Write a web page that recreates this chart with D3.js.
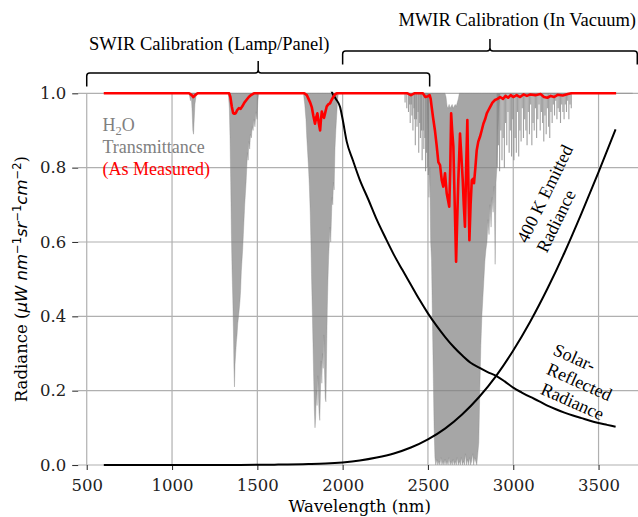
<!DOCTYPE html>
<html>
<head>
<meta charset="utf-8">
<script src="https://cdn.jsdelivr.net/npm/d3@7"></script>
<style>
  body { margin: 0; background: #fff; }
  svg { display: block; }
</style>
</head>
<body>
<div id="chart"></div>
<script>
// Axis ticks
const xTicks = [500, 1000, 1500, 2000, 2500, 3000, 3500];
const yTicks = [0, 0.2, 0.4, 0.6, 0.8, 1.0];

// 400 K emitted radiance [nm, value]
const emitted = [
  [600, 0], [800, 0], [1000, 0], [1200, 0.0001], [1400, 0.0003], [1600, 0.001],
  [1800, 0.0025], [1900, 0.004], [2000, 0.007], [2100, 0.012], [2200, 0.02],
  [2300, 0.031], [2400, 0.047], [2500, 0.069], [2600, 0.098], [2700, 0.136],
  [2800, 0.183], [2900, 0.24], [3000, 0.308], [3100, 0.386], [3200, 0.474],
  [3300, 0.571], [3400, 0.677], [3500, 0.788], [3600, 0.903]
];

// Solar-reflected radiance [nm, value] (goes off the top below ~1940 nm)
const solar = [
  [1900, 1.08], [1920, 1.03], [1940, 1.0], [1960, 0.985], [1985, 0.963], [2000, 0.93],
  [2024, 0.87], [2060, 0.82], [2100, 0.768], [2150, 0.715], [2200, 0.66], [2250, 0.612],
  [2300, 0.566], [2350, 0.525], [2400, 0.485], [2450, 0.445], [2500, 0.408], [2550, 0.375],
  [2600, 0.345], [2650, 0.318], [2700, 0.295], [2750, 0.275], [2800, 0.262], [2850, 0.25],
  [2900, 0.24], [2950, 0.225], [3000, 0.208], [3050, 0.195], [3100, 0.183], [3150, 0.172],
  [3200, 0.16], [3250, 0.15], [3300, 0.141], [3350, 0.133], [3400, 0.126], [3450, 0.119],
  [3500, 0.113], [3550, 0.108], [3600, 0.103]
];

// H2O transmittance, high resolution, dense cores [nm, low, high(optional, default 1)]
const h2o = [
  [600, 1], [1100, 1], [1108, 0.98], [1112, 1], [1118, 0.95], [1122, 0.9], [1126, 0.89],
  [1130, 0.93], [1134, 0.97], [1140, 0.99], [1146, 1],
  [1330, 1], [1336, 0.96], [1340, 0.88], [1344, 0.76], [1348, 0.62], [1352, 0.52],
  [1356, 0.45], [1360, 0.36], [1363, 0.26], [1366, 0.21], [1369, 0.27], [1373, 0.3],
  [1377, 0.33], [1381, 0.35], [1385, 0.38], [1390, 0.4], [1394, 0.42], [1398, 0.44],
  [1402, 0.47], [1406, 0.52], [1410, 0.55], [1414, 0.58], [1418, 0.62], [1422, 0.66],
  [1426, 0.7], [1430, 0.73], [1434, 0.76], [1438, 0.8], [1442, 0.84], [1446, 0.82],
  [1450, 0.87], [1455, 0.85], [1460, 0.89], [1465, 0.88], [1470, 0.91], [1475, 0.9],
  [1480, 0.93], [1486, 0.91], [1492, 0.95], [1498, 0.93], [1503, 0.98], [1508, 1],
  [1770, 1], [1778, 0.97], [1785, 0.93], [1790, 0.88], [1795, 0.84], [1800, 0.8],
  [1805, 0.75], [1810, 0.68], [1814, 0.6], [1818, 0.5], [1822, 0.42], [1826, 0.33],
  [1830, 0.24], [1834, 0.15], [1838, 0.1], [1842, 0.13], [1846, 0.2], [1850, 0.16],
  [1854, 0.24], [1858, 0.19], [1862, 0.14], [1866, 0.12], [1870, 0.2], [1874, 0.28],
  [1878, 0.22], [1882, 0.3], [1886, 0.26], [1890, 0.35], [1894, 0.25], [1898, 0.18],
  [1902, 0.17], [1906, 0.3], [1910, 0.42], [1914, 0.5], [1918, 0.56], [1922, 0.6],
  [1926, 0.64], [1930, 0.6], [1934, 0.66], [1938, 0.72], [1942, 0.7], [1946, 0.76],
  [1950, 0.74], [1955, 0.85], [1960, 0.9], [1965, 0.94], [1970, 0.98], [1975, 1],
  [2495, 1], [2503, 0.85], [2506, 0.72], [2511, 0.8],
  [2516, 0.6], [2521, 0.55], [2526, 0.4], [2531, 0.25], [2536, 0.1], [2541, 0.02],
  [2546, 0], [2552, 0.015], [2558, 0], [2564, 0.01], [2570, 0], [2576, 0.02], [2582, 0],
  [2588, 0.01], [2594, 0], [2600, 0.015], [2606, 0, 0.99], [2612, 0.01, 0.965],
  [2618, 0, 0.96], [2624, 0.02, 0.97], [2630, 0, 0.96], [2636, 0.01, 0.965],
  [2642, 0, 0.97], [2648, 0.015, 0.96], [2654, 0, 0.965], [2660, 0.01, 0.97],
  [2666, 0, 0.965], [2672, 0.02, 0.975], [2678, 0, 0.985], [2684, 0.01], [2690, 0],
  [2696, 0.02], [2702, 0], [2708, 0.01], [2714, 0], [2720, 0.03], [2726, 0], [2732, 0.015],
  [2738, 0], [2744, 0.02], [2750, 0], [2756, 0.01], [2762, 0.03], [2768, 0], [2774, 0.02],
  [2780, 0.01], [2786, 0], [2792, 0.03], [2798, 0.06],
  [2804, 0.2], [2810, 0.32], [2816, 0.4], [2822, 0.45], [2828, 0.5], [2834, 0.55],
  [2840, 0.58], [2846, 0.6], [2852, 0.66], [2858, 0.62], [2864, 0.7], [2870, 0.64],
  [2876, 0.72], [2882, 0.68], [2888, 0.75], [2894, 0.54], [2899, 0.76], [2904, 0.8],
  [2910, 0.9], [2916, 0.96], [2922, 1], [3700, 1]
];

// H2O transmittance, isolated narrow lines [nm, depth]
const h2oLines = [
  [2366, 0.975], [2376, 0.96], [2386, 0.95], [2393, 0.97], [2396, 0.92], [2402, 0.97],
  [2406, 0.94], [2412, 0.9], [2418, 0.96], [2422, 0.93], [2426, 0.86], [2432, 0.93],
  [2436, 0.91], [2442, 0.95], [2446, 0.84], [2452, 0.92], [2456, 0.88], [2462, 0.9],
  [2466, 0.82], [2472, 0.9], [2476, 0.85], [2482, 0.88], [2486, 0.79], [2492, 0.84],
  [2496, 0.8], [2502, 0.78],
  [2906, 0.8], [2913, 0.86], [2920, 0.79], [2927, 0.9], [2934, 0.82], [2941, 0.88],
  [2948, 0.8], [2955, 0.92], [2962, 0.86], [2969, 0.95], [2976, 0.84], [2983, 0.9],
  [2990, 0.83], [2997, 0.93], [3004, 0.82], [3011, 0.88], [3018, 0.84], [3025, 0.95],
  [3032, 0.83], [3039, 0.9], [3046, 0.87], [3053, 0.96], [3060, 0.88], [3067, 0.93],
  [3074, 0.9], [3081, 0.86], [3088, 0.95], [3095, 0.89], [3102, 0.97], [3109, 0.86],
  [3116, 0.92], [3123, 0.9], [3130, 0.96], [3137, 0.88], [3144, 0.93], [3151, 0.97],
  [3158, 0.9], [3165, 0.95], [3172, 0.92], [3179, 0.87], [3186, 0.94], [3193, 0.89],
  [3200, 0.96], [3207, 0.91], [3214, 0.88], [3221, 0.95], [3228, 0.92], [3235, 0.97],
  [3242, 0.94], [3249, 0.98], [3256, 0.93], [3263, 0.96], [3270, 0.95], [3277, 0.92],
  [3284, 0.97], [3291, 0.95], [3298, 0.93], [3305, 0.97], [3312, 0.95], [3319, 0.98],
  [3326, 0.93], [3333, 0.97], [3340, 0.96]
];

// H2O transmittance as measured (low resolution) [nm, value]
const measured = [
  [600, 1], [1100, 1], [1115, 0.995], [1125, 0.99], [1135, 0.995], [1150, 1],
  [1335, 1], [1342, 0.99], [1350, 0.965], [1358, 0.947], [1366, 0.945], [1374, 0.947],
  [1382, 0.955], [1392, 0.96], [1402, 0.958], [1412, 0.965], [1424, 0.975], [1436, 0.982],
  [1450, 0.99], [1465, 0.996], [1480, 1],
  [1775, 1], [1790, 0.995], [1800, 0.985], [1810, 0.975], [1819, 0.963], [1828, 0.94],
  [1838, 0.918], [1845, 0.935], [1852, 0.946], [1860, 0.92], [1868, 0.9], [1873, 0.93],
  [1878, 0.951], [1884, 0.94], [1891, 0.934], [1899, 0.95], [1907, 0.965], [1916, 0.97],
  [1926, 0.973], [1935, 0.982], [1945, 0.99], [1955, 0.997], [1965, 1],
  [2380, 1], [2400, 0.995], [2420, 1], [2470, 1], [2485, 0.99], [2500, 0.992],
  [2510, 0.995], [2516, 0.985], [2522, 0.963], [2530, 0.935], [2541, 0.9], [2551, 0.86],
  [2561, 0.815], [2571, 0.807], [2581, 0.766], [2590, 0.749], [2600, 0.785], [2610, 0.731],
  [2625, 0.695], [2631, 0.8], [2636, 0.946], [2642, 0.9], [2649, 0.857], [2657, 0.7],
  [2665, 0.547], [2671, 0.65], [2678, 0.766], [2688, 0.892], [2696, 0.83], [2704, 0.766],
  [2710, 0.7], [2717, 0.641], [2724, 0.8], [2731, 0.928], [2737, 0.76], [2743, 0.605],
  [2750, 0.7], [2757, 0.766], [2764, 0.77], [2770, 0.758], [2778, 0.8], [2786, 0.847],
  [2795, 0.87], [2805, 0.883], [2815, 0.9], [2825, 0.918], [2835, 0.93], [2845, 0.946],
  [2855, 0.955], [2864, 0.963], [2878, 0.975], [2893, 0.982], [2908, 0.985], [2923, 0.99],
  [2940, 0.985], [2955, 0.993], [2970, 0.988], [2985, 0.995], [3000, 0.99], [3020, 0.995],
  [3040, 0.99], [3060, 0.997], [3080, 0.993], [3100, 0.997], [3130, 0.995], [3160, 0.998],
  [3180, 0.99], [3200, 0.988], [3220, 0.993], [3240, 0.99], [3260, 0.996], [3290, 0.994],
  [3320, 0.998], [3340, 1], [3603, 1]
];

// Calibration ranges shown with braces above the plot [start nm, end nm]
const braceRanges = [[500, 2510], [2000, 3727]];
const braceLabels = ["SWIR Calibration (Lamp/Panel)", "MWIR Calibration (In Vacuum)"];

const width = 638, height = 517;
const serif = "'Liberation Serif', 'Times New Roman', serif";
const axisFont = "'DejaVu Serif', serif";

const x = d3.scaleLinear().domain([450, 3750]).range([78.2, 641.2]);
const y = d3.scaleLinear().domain([0, 1]).range([465, 93.3]);

const svg = d3.select("#chart").append("svg")
  .attr("width", width)
  .attr("height", height);

svg.append("defs").append("clipPath").attr("id", "plot")
  .append("rect")
  .attr("x", x(450)).attr("y", y(1) - 1.5)
  .attr("width", x(3750) - x(450)).attr("height", y(0) - y(1) + 3);

// Grid
const grid = svg.append("g").attr("stroke", "#b0b0b0").attr("stroke-width", 1.2);
grid.selectAll(".gx").data(xTicks).join("line")
  .attr("x1", d => x(d)).attr("x2", d => x(d))
  .attr("y1", y(0)).attr("y2", y(1));
grid.selectAll(".gy").data(yTicks).join("line")
  .attr("x1", x(450)).attr("x2", x(3750))
  .attr("y1", d => y(d)).attr("y2", d => y(d));

// Axes
const xAxis = svg.append("g")
  .attr("transform", `translate(0,${y(0)})`)
  .call(d3.axisBottom(x).tickValues(xTicks).tickSize(5).tickPadding(9).tickFormat(d3.format("d")));
const yAxis = svg.append("g")
  .attr("transform", `translate(${x(450)},0)`)
  .call(d3.axisLeft(y).tickValues(yTicks).tickSize(6).tickPadding(6).tickFormat(d3.format(".1f")));
[xAxis, yAxis].forEach(a => {
  a.select(".domain").remove();
  a.selectAll(".tick line").attr("stroke", "#333").attr("stroke-width", 1.1);
  a.selectAll(".tick text").attr("fill", "#222")
    .style("font-family", axisFont).style("font-size", "16.5px");
});

const plot = svg.append("g").attr("clip-path", "url(#plot)");

// High resolution transmittance: dense cores and narrow lines
plot.append("path")
  .datum(h2o)
  .attr("fill", "#808080")
  .attr("fill-opacity", 0.7)
  .attr("stroke", "#8a8a8a")
  .attr("stroke-opacity", 0.6)
  .attr("stroke-width", 0.6)
  .attr("d", d3.area()
    .x(d => x(d[0]))
    .y0(d => y(d.length > 2 ? d[2] : 1))
    .y1(d => y(d[1])));
plot.append("g").selectAll("line").data(h2oLines).join("line")
  .attr("x1", d => x(d[0])).attr("x2", d => x(d[0]))
  .attr("y1", y(1)).attr("y2", d => y(d[1]))
  .attr("stroke", "#808080").attr("stroke-opacity", 0.75).attr("stroke-width", 1.1);

const line = d3.line().x(d => x(d[0])).y(d => y(d[1]));

plot.append("path").datum(emitted)
  .attr("fill", "none").attr("stroke", "#000").attr("stroke-width", 2)
  .attr("d", line.curve(d3.curveMonotoneX));
plot.append("path").datum(solar)
  .attr("fill", "none").attr("stroke", "#000").attr("stroke-width", 2)
  .attr("d", line.curve(d3.curveMonotoneX));
plot.append("path").datum(measured)
  .attr("fill", "none").attr("stroke", "#ff0000").attr("stroke-width", 2.6)
  .attr("stroke-linejoin", "round")
  .attr("d", line.curve(d3.curveLinear));

// Braces
const braceY = [73, 51], braceDrop = 13.5, braceTip = 12, r = 3;
braceRanges.forEach((br, i) => {
  const x0 = x(br[0]), x1 = x(br[1]), xc = (x0 + x1) / 2, yh = braceY[i];
  const p = d3.path();
  p.moveTo(x0, yh + braceDrop);
  p.lineTo(x0, yh + r);
  p.quadraticCurveTo(x0, yh, x0 + r, yh);
  p.lineTo(xc - r, yh);
  p.quadraticCurveTo(xc, yh, xc, yh - r);
  p.lineTo(xc, yh - braceTip);
  p.moveTo(xc, yh - r);
  p.quadraticCurveTo(xc, yh, xc + r, yh);
  p.lineTo(x1 - r, yh);
  p.quadraticCurveTo(x1, yh, x1, yh + r);
  p.lineTo(x1, yh + braceDrop);
  svg.append("path").attr("d", p.toString())
    .attr("fill", "none").attr("stroke", "#000").attr("stroke-width", 1.5);
});
svg.append("text").attr("x", 89).attr("y", 50)
  .style("font-family", serif).style("font-size", "18.5px")
  .text(braceLabels[0]);
svg.append("text").attr("x", 636).attr("y", 26).attr("text-anchor", "end")
  .style("font-family", serif).style("font-size", "18.5px")
  .text(braceLabels[1]);

// Transmittance legend text
const leg = svg.append("g").style("font-family", serif).style("font-size", "18px");
const h = leg.append("text").attr("x", 102.5).attr("y", 131).attr("fill", "#808080");
h.append("tspan").text("H");
h.append("tspan").attr("dy", 4).style("font-size", "12.5px").text("2");
h.append("tspan").attr("dy", -4).text("O");
leg.append("text").attr("x", 102.5).attr("y", 153).attr("fill", "#808080").text("Transmittance");
leg.append("text").attr("x", 102.5).attr("y", 175).attr("fill", "#ff0000").text("(As Measured)");

// Curve labels
const emLab = svg.append("g").attr("transform", "translate(527,244) rotate(-64)")
  .style("font-family", serif).style("font-size", "18px");
["400 K Emitted", "Radiance"].forEach((t, i) =>
  emLab.append("text").attr("x", 0).attr("y", i * 22).text(t));

const solarLines = [["Solar-", 572, 363], ["Reflected", 577, 387.5], ["Radiance", 570, 407]];
solarLines.forEach(([t, cx, cy]) =>
  svg.append("text")
    .attr("transform", `translate(${cx},${cy}) rotate(24)`)
    .attr("text-anchor", "middle")
    .style("font-family", serif).style("font-size", "18px")
    .text(t));

// Axis labels
svg.append("text")
  .attr("x", (x(450) + x(3750)) / 2).attr("y", 512)
  .attr("text-anchor", "middle")
  .style("font-family", axisFont).style("font-size", "16.5px")
  .text("Wavelength (nm)");

const yl = svg.append("text")
  .attr("transform", `translate(27,${(y(0) + y(1)) / 2}) rotate(-90)`)
  .attr("text-anchor", "middle")
  .style("font-family", axisFont).style("font-size", "16.5px");
const ylParts = [
  ["Radiance (", "serif"], ["\u03bcW nm", "it"], ["\u22121", "sup"], ["sr", "it"],
  ["\u22121", "sup"], ["cm", "it"], ["\u22122", "sup"], [")", "serif"]
];
let shifted = false;
ylParts.forEach(([t, kind]) => {
  const ts = yl.append("tspan").text(t);
  if (kind === "it") {
    ts.style("font-family", "'DejaVu Sans', sans-serif").style("font-style", "italic");
  }
  if (kind === "sup") {
    ts.attr("dy", -6.5).style("font-family", "'DejaVu Sans', sans-serif").style("font-size", "11.5px");
    shifted = true;
  } else if (shifted) {
    ts.attr("dy", 6.5);
    shifted = false;
  }
});
</script>
</body>
</html>
